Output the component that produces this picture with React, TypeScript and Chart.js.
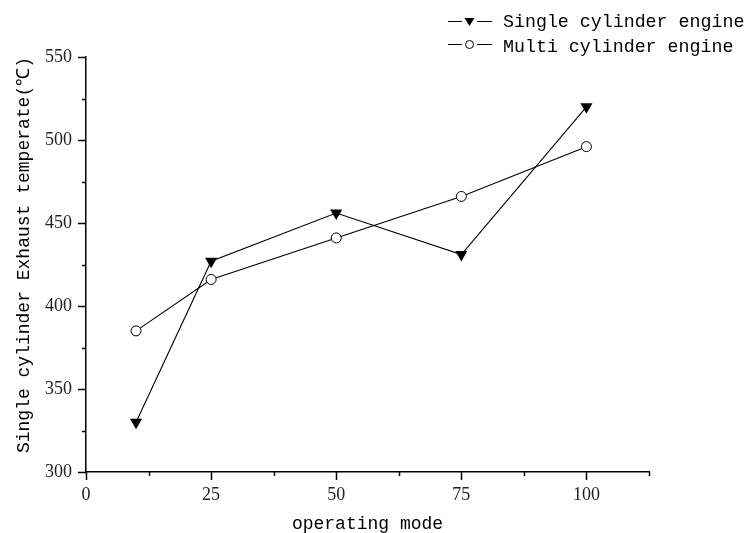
import React, { useEffect, useRef } from 'react';
import { Chart, registerables } from 'chart.js';

Chart.register(...registerables);

const modes = [10, 25, 50, 75, 100];
const singleCylinder = [330, 427, 456, 431, 520];
const multiCylinder = [385, 416, 441, 466, 496];
const seriesLabels = ['Single cylinder engine', 'Multi cylinder engine'];
const xTickLabels = [0, 25, 50, 75, 100];
const yTickLabels = [300, 350, 400, 450, 500, 550];
const xTitle = 'operating mode';
const yTitle = 'Single cylinder Exhaust temperate(℃)';

const MONO = '"Liberation Mono", "DejaVu Sans Mono", monospace';
const SERIF = '"Liberation Serif", "DejaVu Serif", serif';

const tickMarksPlugin = {
  id: 'tickMarks',
  afterDraw(chart: any) {
    const ctx = chart.ctx;
    const xs = chart.scales.x;
    const ys = chart.scales.y;
    const area = chart.chartArea;
    ctx.save();
    ctx.strokeStyle = '#000';
    ctx.lineWidth = 1.5;
    xs.ticks.forEach((t: any) => {
      const p = Math.round(xs.getPixelForValue(t.value)) + 0.5;
      const len = xTickLabels.includes(t.value) ? 8 : 4;
      ctx.beginPath();
      ctx.moveTo(p, area.bottom);
      ctx.lineTo(p, area.bottom + len);
      ctx.stroke();
    });
    ys.ticks.forEach((t: any) => {
      const p = Math.round(ys.getPixelForValue(t.value)) + 0.5;
      const len = yTickLabels.includes(t.value) ? 8 : 4;
      ctx.beginPath();
      ctx.moveTo(area.left, p);
      ctx.lineTo(area.left - len, p);
      ctx.stroke();
    });
    ctx.restore();
  },
};

const legendPlugin = {
  id: 'customLegend',
  afterDraw(chart: any) {
    const ctx = chart.ctx;
    const rows = [
      { sym: 21, base: 26.5 },
      { sym: 44, base: 51.5 },
    ];
    chart.data.datasets.forEach((ds: any, i: number) => {
      const r = rows[i];
      ctx.save();
      ctx.strokeStyle = '#000';
      ctx.lineWidth = 1;
      ctx.beginPath();
      ctx.moveTo(448, r.sym + 0.5);
      ctx.lineTo(462, r.sym + 0.5);
      ctx.moveTo(477, r.sym + 0.5);
      ctx.lineTo(492, r.sym + 0.5);
      ctx.stroke();
      if (ds.pointStyle === 'triangle') {
        ctx.fillStyle = '#000';
        ctx.beginPath();
        ctx.moveTo(464.5, r.sym - 3);
        ctx.lineTo(474.5, r.sym - 3);
        ctx.lineTo(469.5, r.sym + 5);
        ctx.closePath();
        ctx.fill();
      } else {
        ctx.fillStyle = '#fff';
        ctx.beginPath();
        ctx.arc(469.5, r.sym + 0.5, 4, 0, Math.PI * 2);
        ctx.fill();
        ctx.stroke();
      }
      ctx.fillStyle = '#000';
      ctx.font = '18.3px ' + MONO;
      ctx.textBaseline = 'alphabetic';
      ctx.textAlign = 'left';
      ctx.fillText(ds.label, 503, r.base);
      ctx.restore();
    });
  },
};

export default function App() {
  const canvasRef = useRef<HTMLCanvasElement | null>(null);

  useEffect(() => {
    const canvas = canvasRef.current;
    if (!canvas) return;
    const chart = new Chart(canvas, {
      type: 'line',
      data: {
        datasets: [
          {
            label: seriesLabels[0],
            data: modes.map((x, i) => ({ x, y: singleCylinder[i] })),
            borderColor: '#000',
            borderWidth: 1.1,
            backgroundColor: '#000',
            pointBackgroundColor: '#000',
            pointBorderColor: '#000',
            pointBorderWidth: 0,
            pointStyle: 'triangle',
            pointRotation: 180,
            pointRadius: 7,
            tension: 0,
            clip: false as any,
          },
          {
            label: seriesLabels[1],
            data: modes.map((x, i) => ({ x, y: multiCylinder[i] })),
            borderColor: '#000',
            borderWidth: 1.1,
            backgroundColor: '#fff',
            pointBackgroundColor: '#fff',
            pointBorderColor: '#000',
            pointBorderWidth: 1,
            pointStyle: 'circle',
            pointRadius: 5,
            tension: 0,
            clip: false as any,
          },
        ],
      },
      options: {
        responsive: false,
        animation: false,
        devicePixelRatio: 1,
        layout: { padding: { left: 0, top: 57, right: 100, bottom: 0 } },
        plugins: {
          legend: { display: false },
          tooltip: { enabled: false },
        },
        scales: {
          x: {
            type: 'linear',
            min: 0,
            max: 112.5,
            afterFit: (s: any) => {
              s.height = 61;
            },
            ticks: {
              stepSize: 12.5,
              autoSkip: false,
              maxRotation: 0,
              padding: 12,
              color: '#222',
              font: { family: SERIF, size: 18 },
              callback: (v: any) => (xTickLabels.includes(Number(v)) ? String(v) : ''),
            },
            grid: { display: true, drawOnChartArea: false, drawTicks: false, color: 'rgba(0,0,0,0)' },
            border: { display: true, color: '#000', width: 1.5 },
            title: {
              display: true,
              text: xTitle,
              color: '#000',
              font: { family: MONO, size: 18, lineHeight: 1 },
              padding: { top: 0, bottom: 0 },
            },
          },
          y: {
            type: 'linear',
            min: 300,
            max: 550,
            afterFit: (s: any) => {
              s.width = 86;
            },
            ticks: {
              stepSize: 25,
              autoSkip: false,
              padding: 14,
              color: '#222',
              font: { family: SERIF, size: 18 },
              callback: (v: any) => (yTickLabels.includes(Number(v)) ? String(v) : ''),
            },
            grid: { display: true, drawOnChartArea: false, drawTicks: false, color: 'rgba(0,0,0,0)' },
            border: { display: true, color: '#000', width: 1.5 },
            title: {
              display: true,
              text: yTitle,
              align: 'end',
              color: '#000',
              font: { family: MONO, size: 18, lineHeight: 1 },
              padding: { top: 15, bottom: 0 },
            },
          },
        },
      },
      plugins: [tickMarksPlugin, legendPlugin],
    });
    return () => chart.destroy();
  }, []);

  return (
    <div style={{ position: 'absolute', left: 0, top: 0, width: 749, height: 533, background: '#fff' }}>
      <canvas ref={canvasRef} width={749} height={533} style={{ display: 'block', width: 749, height: 533 }} />
    </div>
  );
}
